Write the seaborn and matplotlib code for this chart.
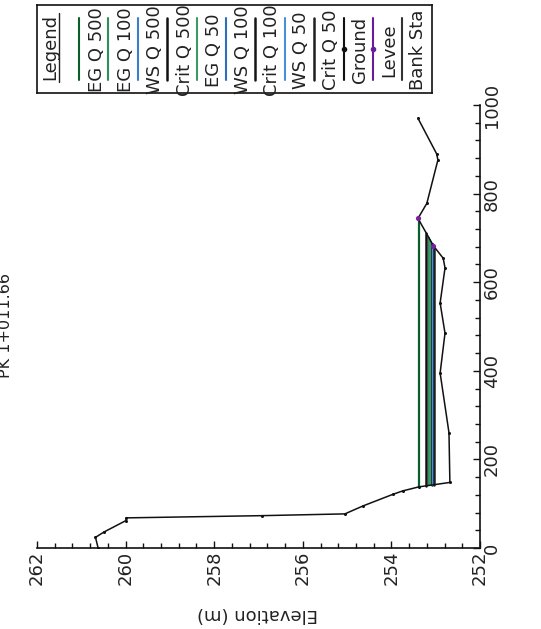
import numpy as np
import pandas as pd
import matplotlib
matplotlib.use("Agg")
import matplotlib.pyplot as plt
import seaborn as sns
from matplotlib import font_manager

# ---- data -------------------------------------------------------------
title = "PK 1+011.66"
x_label = "Elevation (m)"

ground_sta = [0, 24, 36, 62, 68, 73, 77, 95, 121, 129, 138, 148, 260, 395,
              485, 553, 632, 654, 682, 744, 778, 876, 890, 970]
ground_elev = [260.62, 260.68, 260.49, 259.99, 259.99, 256.93, 255.05, 254.64,
               253.97, 253.74, 253.38, 252.68, 252.70, 252.90, 252.79, 252.90,
               252.79, 252.83, 253.05, 253.40, 253.20, 252.95, 252.98, 253.40]
bank_sta = [682, 744]

profile_names = ["EG Q 500", "EG Q 100", "WS Q 500", "Crit Q 500", "EG Q 50",
                 "WS Q 100", "Crit Q 100", "WS Q 50", "Crit Q 50"]
profile_elev = [253.38, 253.15, 253.10, 253.21, 253.13, 253.07, 253.08, 253.05, 253.04]
profile_color = ["#0b5e2e", "#2f8f5b", "#3a7fc8", "#111111", "#3c9a63",
                 "#2c6fb8", "#151515", "#4a90d9", "#202020"]

legend_labels = profile_names + ["Ground", "Levee", "Bank Sta"]
legend_colors = profile_color + ["#111111", "#6a1b9a", "#333333"]

elev_ticks = [262, 260, 258, 256, 254, 252]
sta_ticks = [0, 200, 400, 600, 800, 1000]

# ---- fonts ------------------------------------------------------------
sns.set_theme(style="white")
available = {f.name for f in font_manager.fontManager.ttflist}
if "Liberation Sans Narrow" in available:
    txt_font, tick_size, lab_size, title_size, leg_size = "Liberation Sans Narrow", 16.5, 17, 16, 16
else:
    txt_font, tick_size, lab_size, title_size, leg_size = "DejaVu Sans", 13, 13, 11.5, 13
plt.rcParams["font.family"] = [txt_font, "DejaVu Sans"]

W, H = 541, 629
fig = plt.figure(figsize=(W / 100, H / 100), dpi=100)
fig.patch.set_facecolor("white")


def fx(px):
    return px / W


def fy(py):
    return 1 - py / H


# main axes: elevation runs right-to-left along the bottom, station upward
x0, x1, y_top, y_bot = 37, 480, 105, 548
ax = fig.add_axes([fx(x0), fy(y_bot), fx(x1 - x0), (y_bot - y_top) / H])
ax.set_facecolor("white")

ground = pd.DataFrame({"station": ground_sta, "elevation": ground_elev})


def crossings(level):
    s = np.asarray(ground_sta, float)
    e = np.asarray(ground_elev, float)
    low = int(np.argmin(e))
    left = right = None
    for i in range(low, 0, -1):
        if e[i - 1] >= level > e[i] or e[i - 1] > level >= e[i]:
            left = s[i - 1] + (level - e[i - 1]) * (s[i] - s[i - 1]) / (e[i] - e[i - 1])
            break
    for i in range(low, len(s) - 1):
        if e[i] <= level < e[i + 1] or e[i] < level <= e[i + 1]:
            right = s[i] + (level - e[i]) * (s[i + 1] - s[i]) / (e[i + 1] - e[i])
            break
    return left, right


rows = []
for name, lev in zip(profile_names, profile_elev):
    l, r = crossings(lev)
    rows += [{"profile": name, "station": l, "elevation": lev},
             {"profile": name, "station": r, "elevation": lev}]
water = pd.DataFrame(rows)

for name, col in zip(profile_names, profile_color):
    sub = water[water.profile == name]
    lw = 1.8 if name.startswith("Crit") else 1.6
    sns.lineplot(data=sub, x="elevation", y="station", sort=False, estimator=None,
                 color=col, lw=lw, ax=ax, legend=False)

sns.lineplot(data=ground, x="elevation", y="station", sort=False, estimator=None,
             color="#111111", lw=1.1, marker="o", markersize=2.2,
             markeredgewidth=0, ax=ax, legend=False)
bank = ground[ground.station.isin(bank_sta)]
sns.scatterplot(data=bank, x="elevation", y="station", color="#7b1fa2", s=14,
                linewidth=0, ax=ax, legend=False, zorder=5)

ax.set_xlim(262, 252)
ax.set_ylim(0, 1000)
ax.set_xticks(elev_ticks)
ax.set_yticks(sta_ticks)
ax.set_xticks(np.arange(252, 262.01, 0.4), minor=True)
ax.set_yticks(np.arange(0, 1000.1, 40), minor=True)
ax.xaxis.set_ticks_position("bottom")
ax.yaxis.set_ticks_position("right")
ax.tick_params(axis="both", which="major", direction="in", length=5, width=1,
               color="#111111", labelsize=tick_size, labelcolor="#222222", pad=2)
ax.tick_params(axis="both", which="minor", direction="in", length=3.5, width=1,
               color="#111111")
ax.tick_params(axis="x", labelrotation=90)
ax.tick_params(axis="y", labelrotation=90)
for lab in ax.get_yticklabels():
    lab.set_va("center")
for s in ["top", "left"]:
    ax.spines[s].set_visible(False)
for s in ["bottom", "right"]:
    ax.spines[s].set_color("#111111")
    ax.spines[s].set_linewidth(1.2)
ax.set_xlabel("")
ax.set_ylabel("")
ax.grid(False)

fig.text(fx(258), fy(614), x_label, rotation=180, ha="center", va="center",
         fontsize=lab_size, color="#222222")
fig.text(fx(6), fy(326), title, rotation=90, ha="center", va="center",
         fontsize=title_size, color="#222222")

# legend box across the top, entries laid out left to right
lx0, lx1, ly0, ly1 = 37, 432, 5, 93
lax = fig.add_axes([fx(lx0), fy(ly1), fx(lx1 - lx0), (ly1 - ly0) / H])
lax.set_xlim(lx0, lx1)
lax.set_ylim(ly1, ly0)
lax.set_xticks([])
lax.set_yticks([])
lax.set_facecolor("none")
for s in lax.spines.values():
    s.set_color("#111111")
    s.set_linewidth(1.2)
    s.set_visible(True)

leg_font = dict(rotation=90, ha="center", va="center", fontsize=leg_size,
                color="#222222", clip_on=False)
lax.text(50, 47, "Legend", **leg_font)
lax.plot([58.5, 58.5], [13, 82], color="#222222", lw=1)
for i, (lab, col) in enumerate(zip(legend_labels, legend_colors)):
    xl = 79 + 29.4 * i
    xt = 97 + 29.2 * i
    lw = 1.8 if lab.startswith("Crit") else 1.5
    lax.plot([xl, xl], [18, 80], color=col, lw=lw)
    if lab in ("Ground", "Levee"):
        lax.plot([xl], [49], "o", color=col, ms=3)
    lax.text(xt, 50, lab, **leg_font)

fig.savefig("out.png", dpi=100, facecolor="white")
